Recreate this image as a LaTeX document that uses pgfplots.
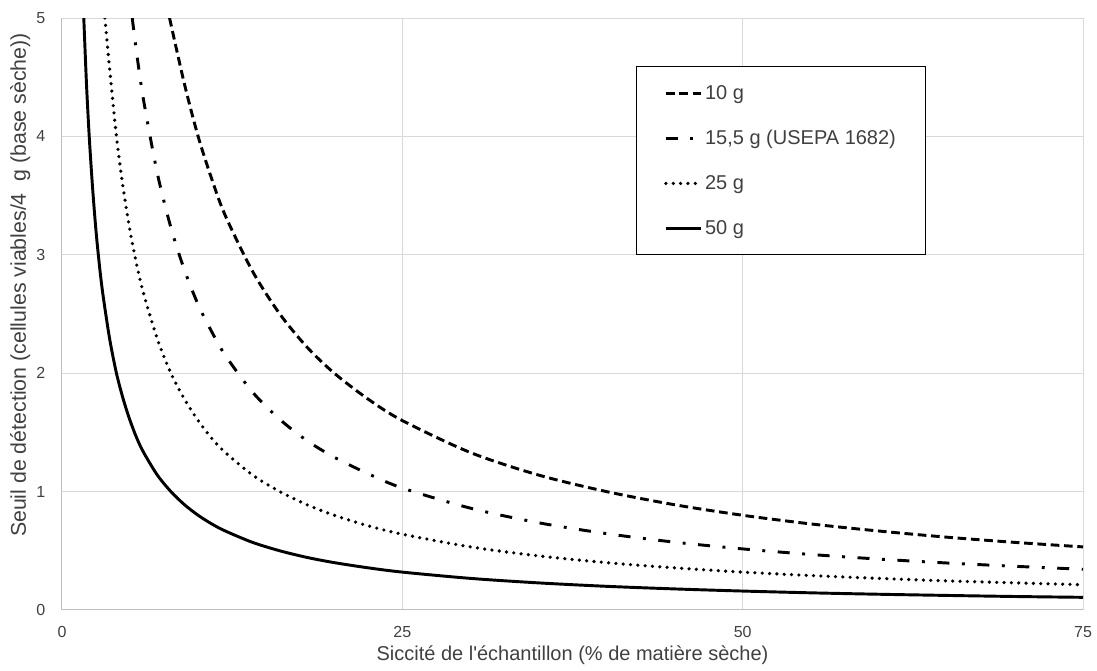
\documentclass[border=0pt]{standalone}
\usepackage{fontspec}
\setmainfont{Liberation Sans}[Ligatures=TeXOff]
\usepackage{pgfplots}
\pgfplotsset{compat=1.18}

\definecolor{gridgray}{HTML}{D9D9D9}
\definecolor{axisgray}{HTML}{BFBFBF}
\definecolor{textgray}{HTML}{404040}

\tikzstyle{s10} =[black, line width=2.2pt, dash pattern=on 6.5pt off 3.5pt]
\tikzstyle{s155}=[black, line width=2.2pt, dash pattern=on 9pt off 9.4pt on 2.2pt off 9.4pt]
\tikzstyle{s25} =[black, line width=2.7pt, line cap=round, dash pattern=on 0pt off 5.5pt]
\tikzstyle{s50} =[black, line width=2.2pt]

\begin{document}
\begin{tikzpicture}
  \useasboundingbox (-46.5pt,-45.75pt) rectangle (776.25pt,457.5pt);
  \begin{axis}[%
    scale only axis,
    width=765.75pt,
    height=444pt,
    xmin=0, xmax=75,
    ymin=0, ymax=5,
    xtick={0,25,50,75},
    ytick={0,1,2,3,4,5},
    axis lines=left,
    axis line style={-, draw=axisgray, line width=0.75pt},
    grid=major,
    grid style={draw=gridgray, line width=0.75pt},
    major tick length=0pt,
    /pgf/number format/assume math mode=true,
    tick label style={font=\fontsize{12}{14}\selectfont, text=textgray},
    xticklabel style={yshift=-8.5pt},
    yticklabel style={xshift=-9pt},
    label style={font=\fontsize{15}{18}\selectfont, text=textgray},
    xlabel={Siccité de l'échantillon (\% de matière sèche)},
    xlabel style={at={(axis description cs:0.5,-0.076)}, anchor=center},
    ylabel={Seuil de détection (cellules viables/4~ g (base sèche))},
    ylabel style={at={(axis description cs:-0.041,0.549)}, anchor=center,
      rotate=0, font=\fontsize{16}{19}\selectfont},
    legend image code/.code={\draw[#1] (0pt,0pt) -- (26pt,0pt);},
    legend style={at={(0.5625,0.919)}, anchor=north west,
      draw=black, line width=0.75pt,
      font=\fontsize{15}{18}\selectfont, text=textgray,
      inner xsep=20.5pt, inner ysep=12pt,
      row sep=17.7pt,
      cells={anchor=west},
      nodes={inner xsep=2pt}},
    legend cell align=left,
    ]

    % 10 g
    \addplot[s10, smooth] coordinates {
      (7.9,5.0) (9,4.44) (10,4.0) (11,3.64) (12,3.33) (14,2.86) (16,2.5)
      (18,2.22) (20,2.0) (22.5,1.78) (25,1.6) (30,1.33) (35,1.14) (40,1.0)
      (45,0.889) (50,0.8) (55,0.727) (60,0.667) (65,0.615) (70,0.571) (75,0.533)
    };
    \addlegendentry{10 g}

    % 15,5 g
    \addplot[s155, smooth] coordinates {
      (5.16,5.0) (5.5,4.69) (6,4.30) (7,3.69) (8,3.23) (9,2.87) (10,2.58)
      (11,2.35) (12,2.15) (14,1.84) (16,1.61) (18,1.43) (20,1.29) (22.5,1.15)
      (25,1.03) (30,0.86) (35,0.737) (40,0.645) (45,0.573) (50,0.516)
      (55,0.469) (60,0.43) (65,0.397) (70,0.369) (75,0.344)
    };
    \addlegendentry{15,5 g (USEPA 1682)}

    % 25 g
    \addplot[s25, smooth] coordinates {
      (3.15,5.0) (3.5,4.57) (4,4.0) (4.5,3.56) (5,3.2) (5.5,2.91) (6,2.67)
      (7,2.29) (8,2.0) (9,1.78) (10,1.6) (11,1.45) (12,1.33) (14,1.14)
      (16,1.0) (18,0.889) (20,0.8) (22.5,0.711) (25,0.64) (30,0.533)
      (35,0.457) (40,0.4) (45,0.356) (50,0.32) (55,0.291) (60,0.267)
      (65,0.246) (70,0.229) (75,0.213)
    };
    \addlegendentry{25 g}

    % 50 g
    \addplot[s50, smooth] coordinates {
      (1.6,5.0) (1.8,4.44) (2,4.0) (2.25,3.56) (2.5,3.2) (2.75,2.91) (3,2.67)
      (3.5,2.29) (4,2.0) (4.5,1.78) (5,1.6) (5.5,1.45) (6,1.33) (7,1.14)
      (8,1.0) (9,0.889) (10,0.8) (11,0.727) (12,0.667) (14,0.571) (16,0.5)
      (18,0.444) (20,0.4) (22.5,0.356) (25,0.32) (30,0.267) (35,0.229)
      (40,0.2) (45,0.178) (50,0.16) (55,0.145) (60,0.133) (65,0.123)
      (70,0.114) (75,0.107)
    };
    \addlegendentry{50 g}
  \end{axis}
\end{tikzpicture}
\end{document}
